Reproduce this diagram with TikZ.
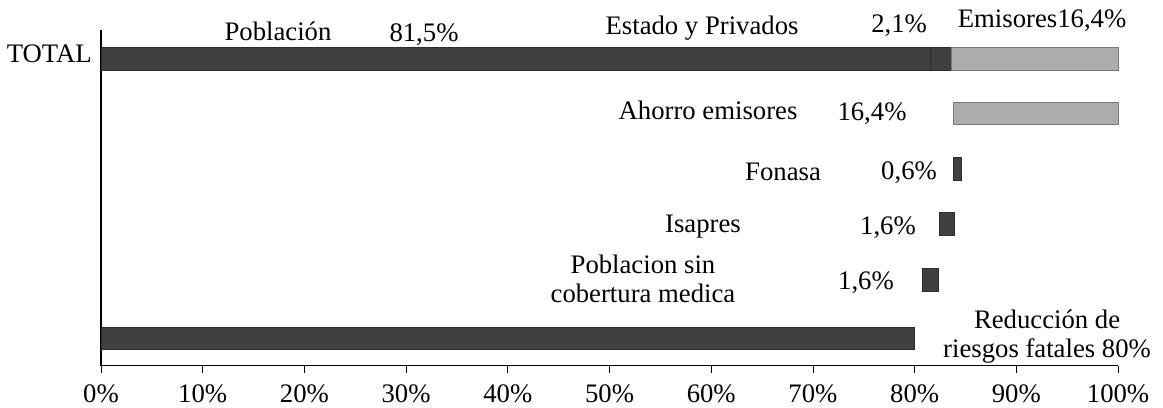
\documentclass[tikz,border=0pt]{standalone}
\usepackage{fontspec}
\setmainfont{Liberation Serif}
\usetikzlibrary{positioning}

\definecolor{barDark}{gray}{0.25}
\definecolor{barLight}{gray}{0.68}

\begin{document}
\begin{tikzpicture}[x=0.25425cm, y=-0.025cm,
  lbl/.style={anchor=base, inner sep=0pt, font=\fontsize{19}{20.8}\selectfont},
  darkbar/.style={fill=barDark, draw=barDark!70!black, line width=0.4pt},
  lightbar/.style={fill=barLight, draw=barLight!70!black, line width=0.4pt}]

\useasboundingbox (-9.931,0) rectangle (104.42,408);

% axes
\coordinate (top) at (0,30);
\coordinate (origin) at (0,366);
\coordinate (xend) at (100,366);
\draw[line width=0.8pt] (top) -- (origin) -- (xend);
\foreach \p in {0,10,...,100}{
  \draw[line width=0.6pt] (\p,366) -- (\p,373);
  \node[lbl] (tick\p) at (\p,403) {\p\%};
}

% TOTAL row
\draw[darkbar] (0,47) rectangle (81.5,70);
\draw[darkbar] (81.5,47) rectangle (83.6,70);
\draw[lightbar] (83.6,47) rectangle (100,70);
\node[lbl, anchor=base east] (total) at (-0.885,63) {TOTAL};
\node[lbl] (poblacion) at (17.4,41) {Población};
\node[lbl] (pobpct) at (31.76,42) {81,5\%};
\node[lbl] (estado) at (59.1,35) {Estado y Privados};
\node[lbl] (estpct) at (78.47,33) {2,1\%};
\node[lbl] (emisores) at (92.53,28) {Emisores16,4\%};

% detail rows
\draw[lightbar] (83.8,102) rectangle (100,124);
\node[lbl] (ahorro) at (59.69,120) {Ahorro emisores};
\node[lbl] (ahorropct) at (75.81,121) {16,4\%};

\draw[darkbar] (83.8,157) rectangle (84.56,180);
\node[lbl] (fonasa) at (67.06,181) {Fonasa};
\node[lbl] (fonasapct) at (79.45,180) {0,6\%};

\draw[darkbar] (82.4,212) rectangle (83.87,235);
\node[lbl] (isapres) at (59.19,233) {Isapres};
\node[lbl] (isaprespct) at (77.38,235) {1,6\%};

\draw[darkbar] (80.73,268) rectangle (82.3,291);
\node[lbl, align=center] (sincob) at (53.29,303) {Poblacion sin\\cobertura medica};
\node[lbl] (sincobpct) at (75.22,290) {1,6\%};

% reduccion row
\draw[darkbar] (0,327) rectangle (79.94,349);
\node[lbl, align=center] (reduccion) at (93.02,358) {Reducción de\\riesgos fatales 80\%};

\end{tikzpicture}
\end{document}
